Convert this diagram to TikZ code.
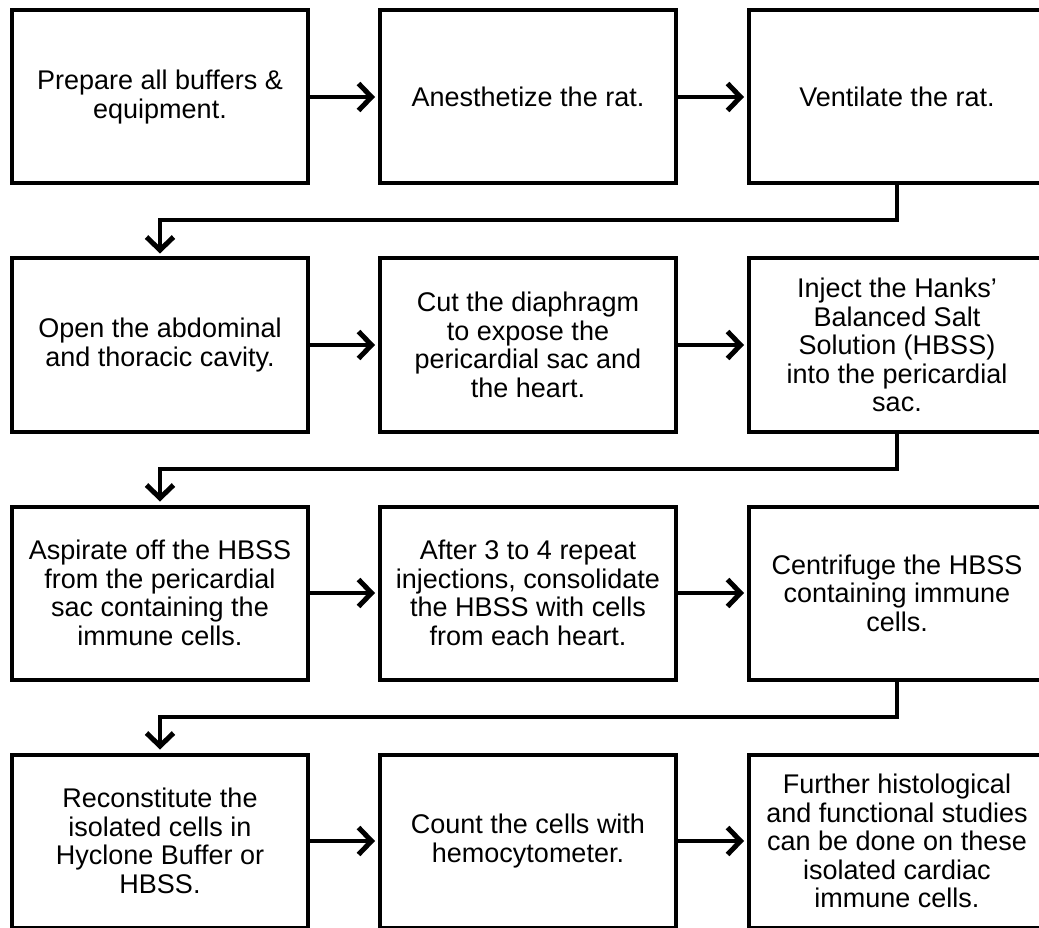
\documentclass[tikz,border=0pt]{standalone}
\usepackage{fontspec}
\setmainfont{Liberation Sans}
\usetikzlibrary{arrows.meta,
                shadows}

\begin{document}
\begin{tikzpicture}[x=1pt, y=1pt,
        stepbox/.style={draw, line width=4pt, fill=white, minimum width=296pt, minimum height=173pt,
                        align=center, inner sep=2pt, font=\fontsize{27}{28.6}\selectfont,
                        drop shadow={opacity=0.25, shadow xshift=1pt, shadow yshift=-1pt}},
        link/.style={line width=4pt, shorten >=3pt,
                     -{Straight Barb[length=13pt, width=27pt, line width=5pt]}}]
    \useasboundingbox (0, 0) rectangle (1039, -928);

    % row 1
    \node [stepbox] (prep)  at (160, -97)   {Prepare all buffers \&\\equipment.};
    \node [stepbox] (anest) at (528, -97)   {Anesthetize the rat.};
    \node [stepbox] (vent)  at (897, -97)   {Ventilate the rat.};

    % row 2
    \node [stepbox] (open)  at (160, -345)  {Open the abdominal\\and thoracic cavity.};
    \node [stepbox] (cut)   at (528, -345)  {Cut the diaphragm\\to expose the\\pericardial sac and\\the heart.};
    \node [stepbox] (inject) at (897, -345) {Inject the Hanks'\\Balanced Salt\\Solution (HBSS)\\into the pericardial\\sac.};

    % row 3
    \node [stepbox] (aspir) at (160, -593)  {Aspirate off the HBSS\\from the pericardial\\sac containing the\\immune cells.};
    \node [stepbox] (pool)  at (528, -593)  {After 3 to 4 repeat\\injections, consolidate\\the HBSS with cells\\from each heart.};
    \node [stepbox] (spin)  at (897, -593)  {Centrifuge the HBSS\\containing immune\\cells.};

    % row 4
    \node [stepbox] (recon) at (160, -841)  {Reconstitute the\\isolated cells in\\Hyclone Buffer or\\HBSS.};
    \node [stepbox] (count) at (528, -841)  {Count the cells with\\hemocytometer.};
    \node [stepbox] (study) at (897, -841)  {Further histological\\and functional studies\\can be done on these\\isolated cardiac\\immune cells.};

    \draw [link] (prep) -- (anest);
    \draw [link] (anest) -- (vent);
    \draw [link] (vent.south) -- ++(0, -35) -| (open.north);

    \draw [link] (open) -- (cut);
    \draw [link] (cut) -- (inject);
    \draw [link] (inject.south) -- ++(0, -35) -| (aspir.north);

    \draw [link] (aspir) -- (pool);
    \draw [link] (pool) -- (spin);
    \draw [link] (spin.south) -- ++(0, -35) -| (recon.north);

    \draw [link] (recon) -- (count);
    \draw [link] (count) -- (study);
\end{tikzpicture}
\end{document}
